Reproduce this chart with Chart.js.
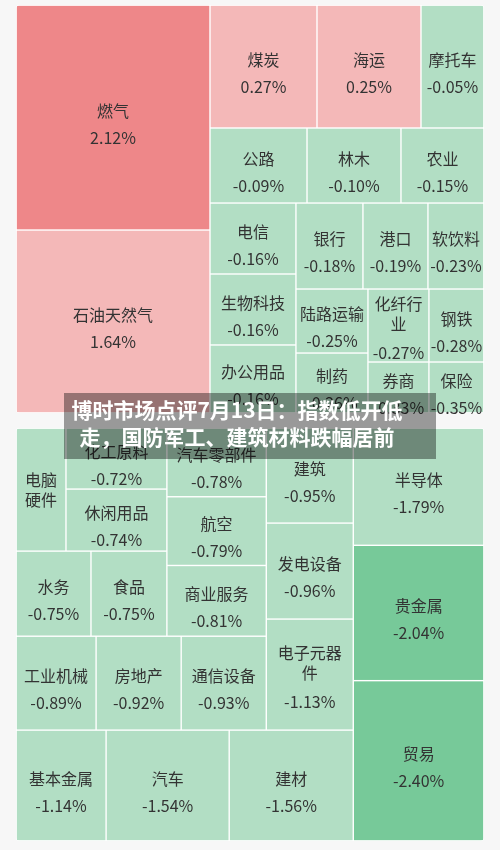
<!DOCTYPE html>
<html>
<head>
<meta charset="utf-8">
<script src="https://cdn.jsdelivr.net/npm/chart.js@4.4.0/dist/chart.umd.min.js"></script>
<style>
  html, body { margin: 0; padding: 0; background: #f7f7f7; }
  #wrap { position: relative; width: 500px; height: 850px; }
  #banner {
    position: absolute; left: 64px; top: 393px; width: 346px; height: 63px;
    padding: 3px 26px 0 0; box-sizing: content-box;
    background: rgba(0, 0, 0, 0.38); color: #fff;
    font: bold 21px/27px "Noto Sans CJK SC", sans-serif; text-align: center;
    white-space: nowrap;
  }
</style>
</head>
<body>
<div id="wrap">
  <canvas id="chart" width="500" height="850"></canvas>
  <div id="banner">博时市场点评7月13日：指数低开低<br>走，国防军工、建筑材料跌幅居前</div>
</div>
<script>
// upper block: gainers and small losers (largest first, laid out from top-left)
const upperNames = ['燃气', '石油天然气', '煤炭', '海运', '摩托车', '公路', '林木', '农业', '电信', '生物科技',
  '办公用品', '银行', '港口', '软饮料', '陆路运输', '制药', '化纤行业', '钢铁', '券商', '保险'];
const upperChanges = [2.12, 1.64, 0.27, 0.25, -0.05, -0.09, -0.10, -0.15, -0.16, -0.16,
  -0.16, -0.18, -0.19, -0.23, -0.25, -0.26, -0.27, -0.28, -0.33, -0.35];
const upperWeights = [43.65, 35.5, 13.16, 12.79, 7.75, 7.28, 7.05, 6.23, 6.1, 6.1,
  5.85, 5.76, 5.59, 4.82, 4.61, 4.32, 4.45, 4.02, 3.11, 2.81];

// lower block: bigger losers (largest first, laid out from bottom-right)
const lowerNames = ['贸易', '贵金属', '半导体', '建材', '汽车', '基本金属', '电子元器件', '发电设备', '建筑', '通信设备',
  '房地产', '工业机械', '商业服务', '航空', '汽车零部件', '食品', '水务', '休闲用品', '化工原料', '电脑硬件'];
const lowerChanges = [-2.40, -2.04, -1.79, -1.56, -1.54, -1.14, -1.13, -0.96, -0.95, -0.93,
  -0.92, -0.89, -0.81, -0.79, -0.78, -0.75, -0.75, -0.74, -0.72, -0.70];
const lowerWeights = [20.96, 17.69, 15.33, 13.76, 13.65, 9.99, 9.66, 8.35, 8.27, 7.99,
  7.99, 7.52, 7.03, 6.83, 6.83, 6.46, 6.38, 6.26, 6.16, 6.15];

const W = 468, H = 836, GAP = 15;

function colorFor(v) {
  if (v >= 2) return '#ee8789';
  if (v > 0) return '#f4b8b8';
  if (v <= -2) return '#77c999';
  return '#b2dec4';
}

function meanAspect(row, sum, len) {
  const t = sum / len;
  let s = 0;
  row.forEach(n => { const l = n.w / t; s += Math.max(l / t, t / l); });
  return s / row.length;
}

// squarified layout: keep adding to a row while the mean aspect ratio does not get worse
function squarify(nodes, x0, y0, x1, y1) {
  const out = [];
  let total = nodes.reduce((s, n) => s + n.w, 0);
  let i = 0;
  while (i < nodes.length) {
    const dx = x1 - x0, dy = y1 - y0;
    const k = dx * dy / total;
    const len = Math.min(dx, dy);
    let row = [nodes[i]], sum = nodes[i].w * k;
    let best = meanAspect([{w: nodes[i].w * k}], sum, len);
    let j = i + 1;
    while (j < nodes.length) {
      const cand = row.concat([nodes[j]]);
      const s2 = sum + nodes[j].w * k;
      const r = meanAspect(cand.map(n => ({w: n.w * k})), s2, len);
      if (r > best) break;
      row = cand; sum = s2; best = r; j++;
    }
    const rowW = row.reduce((s, n) => s + n.w, 0);
    if (dx < dy) {
      const h = dy * rowW / total;
      let x = x0;
      row.forEach(n => { const w = dx * n.w / rowW; out.push({...n, x0: x, x1: x + w, y0: y0, y1: y0 + h}); x += w; });
      y0 += h;
    } else {
      const w = dx * rowW / total;
      let y = y0;
      row.forEach(n => { const h = dy * n.w / rowW; out.push({...n, x0: x0, x1: x0 + w, y0: y, y1: y + h}); y += h; });
      x0 += w;
    }
    total -= rowW;
    i = j;
  }
  return out;
}

const upper = upperNames.map((name, i) => ({name, v: upperChanges[i], w: upperWeights[i]}));
const lower = lowerNames.map((name, i) => ({name, v: lowerChanges[i], w: lowerWeights[i]}));
const su = upperWeights.reduce((a, b) => a + b, 0);
const sl = lowerWeights.reduce((a, b) => a + b, 0);
const splitY = (H - GAP) * su / (su + sl);

const groups = [
  {x0: 0, y0: 0, x1: W, y1: splitY},
  {x0: 0, y0: splitY + GAP, x1: W, y1: H}
];
const upperCells = squarify(upper, 0, 0, W, splitY);
const lowerCells = squarify(lower, 0, splitY + GAP, W, H).map(c => ({
  ...c, x0: W - c.x1, x1: W - c.x0, y0: (splitY + GAP + H) - c.y1, y1: (splitY + GAP + H) - c.y0
}));
const cells = upperCells.concat(lowerCells);

function roundRect(ctx, x, y, w, h, r) {
  ctx.beginPath();
  ctx.moveTo(x + r, y);
  ctx.arcTo(x + w, y, x + w, y + h, r);
  ctx.arcTo(x + w, y + h, x, y + h, r);
  ctx.arcTo(x, y + h, x, y, r);
  ctx.arcTo(x, y, x + w, y, r);
  ctx.closePath();
}

function wrap(ctx, text, maxW) {
  const lines = [];
  let cur = '';
  for (const ch of text) {
    if (cur && ctx.measureText(cur + ch).width > maxW) { lines.push(cur); cur = ch; }
    else cur += ch;
  }
  if (cur) lines.push(cur);
  return lines;
}

const treemapPlugin = {
  id: 'treemapCells',
  beforeDatasetsDraw(chart) {
    const {ctx, scales: {x, y}} = chart;
    const px = v => x.getPixelForValue(v);
    const py = v => y.getPixelForValue(v);
    ctx.save();
    groups.forEach(g => {
      const gx = px(g.x0), gy = py(g.y0), gw = px(g.x1) - gx, gh = py(g.y1) - gy;
      ctx.fillStyle = '#ffffff';
      roundRect(ctx, gx, gy, gw, gh, 3);
      ctx.fill();
      ctx.save();
      roundRect(ctx, gx + 0.5, gy + 0.5, gw - 1, gh - 1, 2.5);
      ctx.clip();
      cells.filter(c => c.y0 >= g.y0 - 0.01 && c.y1 <= g.y1 + 0.01).forEach(c => {
        const cx = px(c.x0), cy = py(c.y0), cw = px(c.x1) - cx, ch = py(c.y1) - cy;
        ctx.fillStyle = colorFor(c.v);
        ctx.fillRect(cx + 0.7, cy + 0.7, cw - 1.4, ch - 1.4);
      });
      ctx.restore();
    });

    ctx.fillStyle = '#333333';
    ctx.textAlign = 'center';
    ctx.textBaseline = 'middle';
    ctx.font = '16px "Noto Sans CJK SC", sans-serif';
    cells.forEach(c => {
      const x0 = px(c.x0), x1 = px(c.x1), y0 = py(c.y0), y1 = py(c.y1);
      const cw = x1 - x0, ch = y1 - y0;
      const cx = (x0 + x1) / 2, cy = (y0 + y1) / 2;
      const lines = wrap(ctx, c.name, cw - 8);
      const valueText = c.v.toFixed(2) + '%';
      const showValue = ctx.measureText(valueText).width <= cw;
      const n = lines.length;
      if (showValue) {
        const gap = n === 1 ? 27 : 29;
        const off = n === 1 ? 6.5 : 3;
        const blockC = (20 * (n - 1) + gap) / 2;
        const top = cy + off - blockC;
        lines.forEach((l, i) => ctx.fillText(l, cx, top + 20 * i));
        ctx.fillText(valueText, cx, top + 20 * (n - 1) + gap);
      } else {
        const top = cy - 20 * (n - 1) / 2;
        lines.forEach((l, i) => ctx.fillText(l, cx, top + 20 * i));
      }
    });
    ctx.restore();
  }
};

new Chart(document.getElementById('chart').getContext('2d'), {
  type: 'scatter',
  data: {
    datasets: [{
      data: cells.map(c => ({x: (c.x0 + c.x1) / 2, y: (c.y0 + c.y1) / 2})),
      pointRadius: 0,
      pointHoverRadius: 0
    }]
  },
  options: {
    responsive: false,
    animation: false,
    layout: {padding: {left: 16, right: 16, top: 5, bottom: 9}},
    plugins: {legend: {display: false}, tooltip: {enabled: false}},
    scales: {
      x: {type: 'linear', min: 0, max: W, display: false},
      y: {type: 'linear', min: 0, max: H, reverse: true, display: false}
    }
  },
  plugins: [treemapPlugin]
});
</script>
</body>
</html>
